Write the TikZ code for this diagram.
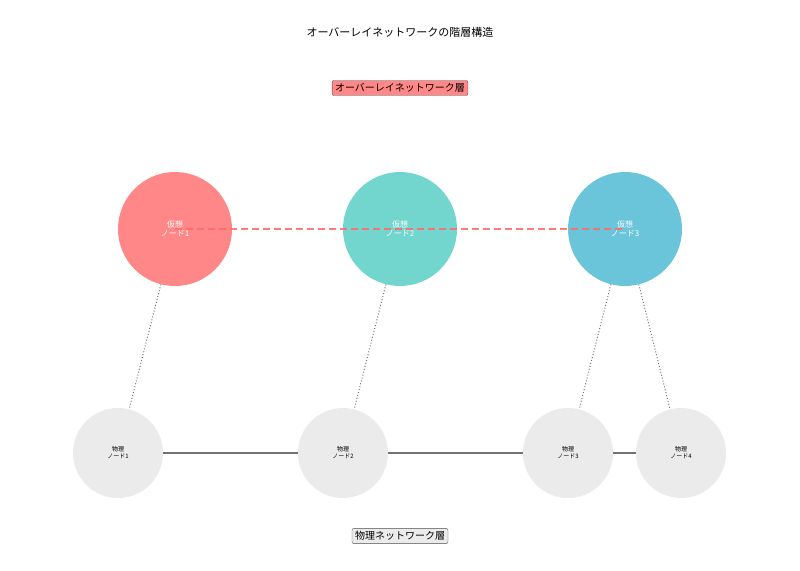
\documentclass[tikz,border=0pt]{standalone}
\usepackage{fontspec}
\setmainfont{Noto Sans CJK JP}
\definecolor{vred}{HTML}{FF8787}
\definecolor{vteal}{HTML}{72D6CE}
\definecolor{vblue}{HTML}{6AC5DB}
\definecolor{phys}{HTML}{EBEBEB}
\definecolor{linkred}{HTML}{FF6B6B}
\tikzset{
  virt/.style={circle,minimum size=114pt,inner sep=0pt,text=white,font=\fontsize{8}{9}\selectfont,align=center},
  phy/.style={circle,fill=phys,minimum size=90pt,inner sep=0pt,font=\fontsize{6}{7}\selectfont,align=center},
  layer/.style={draw=black!70,rounded corners=2pt,inner sep=3pt,font=\fontsize{10}{12}\selectfont}
}
\begin{document}
\begin{tikzpicture}[x=1pt,y=-1pt]
        \useasboundingbox (0,0) rectangle (800,570);
        \node[font=\fontsize{11}{13}\selectfont] (title) at (400,32) {オーバーレイネットワークの階層構造};
        \node[layer,fill=vred] (olayer) at (400,88) {オーバーレイネットワーク層};
        \node[layer,fill=phys] (player) at (400,536) {物理ネットワーク層};

        \node[virt,fill=vred] (v1) at (175,229) {};
        \node[virt,fill=vteal] (v2) at (400,229) {};
        \node[virt,fill=vblue] (v3) at (625,229) {};

        \node[phy] (p1) at (118,453) {物理\\ノード1};
        \node[phy] (p2) at (343,453) {物理\\ノード2};
        \node[phy] (p3) at (568,453) {物理\\ノード3};
        \node[phy] (p4) at (681,453) {物理\\ノード4};

        \draw[linkred,line width=1.8pt,dash pattern=on 7pt off 4pt,opacity=.9] (v1.center) -- (v3.center);
        \foreach \n/\k in {v1/1,v2/2,v3/3}
            \node[virt] at (\n) {仮想\\ノード\k};

        \draw[black!55,line width=1.2pt] (p1) -- (p2) (p2) -- (p3) (p3) -- (p4);
        \draw[black!55,dotted,line width=1pt] (v1) -- (p1) (v2) -- (p2) (v3) -- (p3) (v3) -- (p4);
    \end{tikzpicture}
\end{document}
